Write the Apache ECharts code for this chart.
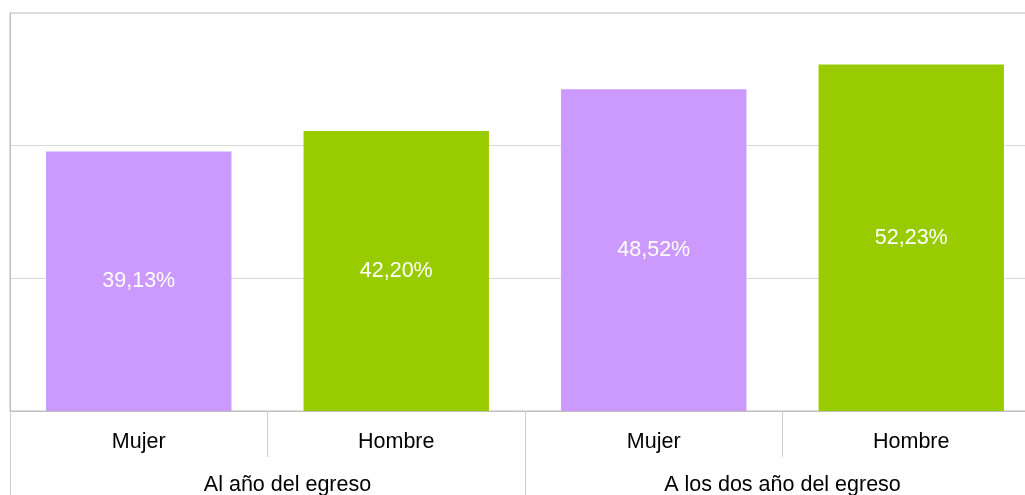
<!DOCTYPE html>
<html>
<head>
<meta charset="utf-8">
<script src="https://cdn.jsdelivr.net/npm/echarts@6/dist/echarts.min.js"></script>
<style>
  html, body { margin: 0; padding: 0; background: #ffffff; }
  #chart { width: 1025px; height: 495px; }
</style>
</head>
<body>
<div id="chart"></div>
<script>
const categories = ['Mujer', 'Hombre', 'Mujer', 'Hombre'];
const groups = ['Al año del egreso', 'A los dos año del egreso'];
const values = [39.13, 42.20, 48.52, 52.23];
const barColors = ['#CC99FF', '#99CC00', '#CC99FF', '#99CC00'];
const yTicks = { min: 0, max: 60, interval: 20 };

const FONT = '"Liberation Sans", Arial, sans-serif';
const FS = 21.5;
const chart = echarts.init(document.getElementById('chart'), null, { renderer: 'canvas' });

chart.setOption({
  animation: false,
  backgroundColor: '#ffffff',
  grid: {
    left: 10, top: 13, right: -15, bottom: 84,
    outerBoundsMode: 'none',
    show: true, borderColor: '#bfbfbf', borderWidth: 1, backgroundColor: 'transparent',
    containLabel: false
  },
  xAxis: [
    {
      type: 'category',
      data: categories,
      position: 'bottom',
      axisLine: { show: true, lineStyle: { color: '#bfbfbf', width: 1 } },
      axisTick: { show: true, length: 46, lineStyle: { color: '#d0d0d0', width: 1 } },
      axisLabel: { color: '#000000', fontFamily: FONT, fontSize: FS, margin: 20 }
    },
    {
      type: 'category',
      data: groups,
      position: 'bottom',
      offset: 46,
      axisLine: { show: false },
      axisTick: { show: true, length: 40, lineStyle: { color: '#d0d0d0', width: 1 } },
      axisLabel: {
        color: '#000000', fontFamily: FONT, fontSize: FS, margin: 17,
        formatter: (v, i) => i === 0 ? '{s|' + v + '}' : v,
        rich: { s: { fontFamily: FONT, fontSize: FS, color: '#000000', padding: [0, 0, 0, 40] } }
      }
    }
  ],
  yAxis: {
    type: 'value',
    min: yTicks.min, max: yTicks.max, interval: yTicks.interval,
    axisLine: { show: true, lineStyle: { color: '#bfbfbf' } },
    axisTick: { show: false },
    axisLabel: { show: false },
    splitLine: { show: true, lineStyle: { color: '#d9d9d9', width: 1 } }
  },
  series: [{
    type: 'bar',
    xAxisIndex: 0,
    data: values.map((v, i) => ({ value: v, itemStyle: { color: barColors[i] } })),
    barCategoryGap: '28%',
    label: {
      show: true,
      position: 'inside',
      color: '#ffffff',
      fontFamily: FONT,
      fontSize: FS,
      formatter: p => p.value.toFixed(2).replace('.', ',') + '%'
    }
  }]
});
</script>
</body>
</html>
